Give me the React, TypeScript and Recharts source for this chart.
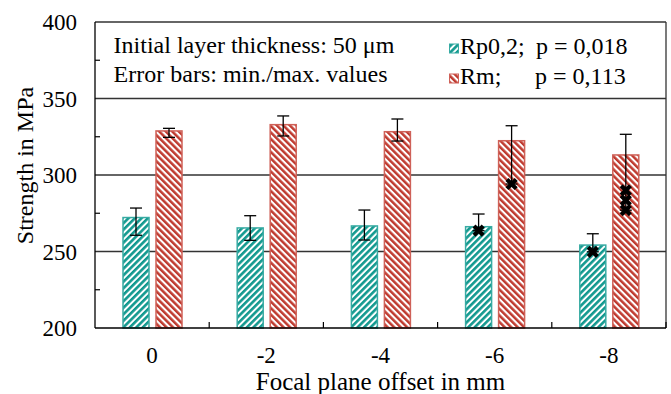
import React from 'react';
import { BarChart, Bar, XAxis, YAxis, CartesianGrid, ErrorBar, Legend } from 'recharts';

// ---------- data ----------
const categories = ['0', '-2', '-4', '-6', '-8'];
const rp02Mean = [272.2, 265.4, 266.7, 266.2, 254.2];
const rp02Min = [260.6, 257.3, 257.5, 263.6, 249.8];
const rp02Max = [278.4, 273.4, 277.1, 274.5, 261.6];
const rmMean = [328.8, 332.9, 328.3, 322.4, 313.1];
const rmMin = [324.6, 325.5, 322.2, 294.1, 277.0];
const rmMax = [330.5, 338.6, 336.6, 332.2, 326.6];
const rp02Marks: number[][] = [[], [], [], [263.6], [249.8]];
const rmMarks: number[][] = [[], [], [], [294.1], [290.0, 283.5, 277.0]];
const yTicks = [200, 225, 250, 275, 300, 325, 350, 375, 400];
const gridValues = [250, 300, 350, 400];
const noteLines = ['Initial layer thickness: 50 μm', 'Error bars: min./max. values'];
const seriesNames = ['Rp0,2;', 'Rm;'];
const seriesP = ['p = 0,018', 'p = 0,113'];
const xTitle = 'Focal plane offset in mm';
const yTitle = 'Strength in MPa';

// ---------- layout ----------
const W = 671;
const H = 394;
const MARGIN = { top: 22, right: 5, bottom: 0, left: 0 };
const Y_AXIS_W = 95;
const X_AXIS_H = 66;
const PLOT_W = W - MARGIN.left - MARGIN.right - Y_AXIS_W;
const BAND = PLOT_W / categories.length;
const Y_DOMAIN: [number, number] = [200, 400];
const FONT = 'Liberation Serif';
const TEAL = '#12998f';
const TEAL_EDGE = '#38aba3';
const RED = '#bf3a2f';
const RED_EDGE = '#cf6158';

const data = categories.map((c, i) => ({
  cat: c,
  rp02: rp02Mean[i],
  rp02Err: [rp02Mean[i] - rp02Min[i], rp02Max[i] - rp02Mean[i]],
  rp02Marks: rp02Marks[i],
  rm: rmMean[i],
  rmErr: [rmMean[i] - rmMin[i], rmMax[i] - rmMean[i]],
  rmMarks: rmMarks[i],
}));

const T = (props: any) => {
  const { children, size, ...rest } = props;
  return (
    <text fontSize={size} fontFamily={FONT} style={{ fontFamily: FONT }} fill="#000" {...rest}>
      {children}
    </text>
  );
};

const Cross = ({ cx, cy }: { cx: number; cy: number }) => (
  <g>
    <line x1={cx - 4.6} y1={cy - 4.6} x2={cx + 4.6} y2={cy + 4.6} stroke="#000" strokeWidth={4.2} />
    <line x1={cx - 4.6} y1={cy + 4.6} x2={cx + 4.6} y2={cy - 4.6} stroke="#000" strokeWidth={4.2} />
  </g>
);

const makeShape = (patternId: string, edge: string, valueKey: string, marksKey: string) => (props: any) => {
  const { x, y, width, height, payload } = props;
  const v = payload[valueKey];
  const ppu = height / (v - Y_DOMAIN[0]);
  const marks: number[] = payload[marksKey] || [];
  return (
    <g>
      <rect x={x} y={y} width={width} height={height} fill={`url(#${patternId})`} stroke={edge} strokeWidth={1.5} />
      {marks.map((m, k) => (
        <Cross key={k} cx={x + width / 2} cy={y + height - (m - Y_DOMAIN[0]) * ppu} />
      ))}
    </g>
  );
};

const YTick = (props: any) => {
  const { x, y, payload } = props;
  const v = payload.value;
  if (v % 50 === 0) {
    return (
      <T x={x - 18} y={y} dy="0.35em" textAnchor="end" size={23}>
        {v}
      </T>
    );
  }
  return <line x1={x} x2={x + 5} y1={y} y2={y} stroke="#000" strokeWidth={1.2} />;
};

const XTick = (props: any) => {
  const { x, y, payload } = props;
  return (
    <g>
      <T x={x} y={y + 35} textAnchor="middle" size={23}>
        {payload.value}
      </T>
      <line x1={x + BAND / 2} x2={x + BAND / 2} y1={y} y2={y - 6} stroke="#000" strokeWidth={1.2} />
    </g>
  );
};

const Patterns = ({ prefix }: { prefix: string }) => (
  <defs>
    <pattern id={`${prefix}teal`} patternUnits="userSpaceOnUse" width={4.6} height={4.6} patternTransform="rotate(45)">
      <rect width={4.6} height={4.6} fill="#fff" />
      <rect width={2.6} height={4.6} fill={TEAL} />
    </pattern>
    <pattern id={`${prefix}red`} patternUnits="userSpaceOnUse" width={4.6} height={4.6} patternTransform="rotate(-45)">
      <rect width={4.6} height={4.6} fill="#fff" />
      <rect width={2.5} height={4.6} fill={RED} />
    </pattern>
  </defs>
);

const renderLegend = () => (
  <svg width={PLOT_W} height={77} style={{ display: 'block' }}>
    <Patterns prefix="lg-" />
    <T x={18.6} y={31} size={24}>{noteLines[0]}</T>
    <T x={18.6} y={60} size={24}>{noteLines[1]}</T>
    <rect x={354.5} y={22} width={9} height={9} fill="url(#lg-teal)" stroke={TEAL_EDGE} strokeWidth={1} />
    <T x={365} y={32} size={24}>{seriesNames[0]}</T>
    <T x={441} y={32} size={24}>{seriesP[0]}</T>
    <rect x={354.5} y={52} width={9} height={9} fill="url(#lg-red)" stroke={RED_EDGE} strokeWidth={1} />
    <T x={365} y={62} size={24}>{seriesNames[1]}</T>
    <T x={440} y={62} size={24}>{seriesP[1]}</T>
  </svg>
);

export default function App() {
  return (
    <div style={{ position: 'absolute', left: 0, top: 0, width: W, height: H, background: '#fff' }}>
      <BarChart width={W} height={H} data={data} margin={MARGIN} barSize={26} barGap={7}>
        <Patterns prefix="b-" />
        <CartesianGrid
          horizontal
          vertical
          horizontalValues={gridValues}
          verticalCoordinatesGenerator={(p: any) => [p.offset.left + p.offset.width]}
          stroke="#333"
          strokeWidth={1.3}
          strokeDasharray=""
        />
        <XAxis
          dataKey="cat"
          height={X_AXIS_H}
          tickLine={false}
          tickSize={0}
          tickMargin={0}
          interval={0}
          axisLine={{ stroke: '#000', strokeWidth: 1.3 }}
          tick={<XTick />}
          label={(p: any) => {
            const vb = p.viewBox || {};
            return (
              <T x={vb.x + vb.width / 2} y={vb.y + 62} textAnchor="middle" size={25}>
                {xTitle}
              </T>
            );
          }}
        />
        <YAxis
          width={Y_AXIS_W}
          domain={Y_DOMAIN}
          ticks={yTicks}
          interval={0}
          tickLine={false}
          tickSize={0}
          tickMargin={0}
          axisLine={{ stroke: '#000', strokeWidth: 1.3 }}
          tick={<YTick />}
          label={(p: any) => {
            const vb = p.viewBox || {};
            const cx = 25;
            const cy = vb.y + vb.height / 2 - 9.5;
            return (
              <T x={cx} y={cy} dy="0.35em" textAnchor="middle" transform={`rotate(-90, ${cx}, ${cy})`} size={24}>
                {yTitle}
              </T>
            );
          }}
        />
        <Legend
          layout="vertical"
          align="center"
          verticalAlign="middle"
          wrapperStyle={{ position: 'absolute', left: Y_AXIS_W, top: MARGIN.top, width: PLOT_W, height: 77 }}
          content={renderLegend}
        />
        <Bar dataKey="rp02" isAnimationActive={false} shape={makeShape('b-teal', TEAL_EDGE, 'rp02', 'rp02Marks')}>
          <ErrorBar dataKey="rp02Err" width={6} stroke="#000" strokeWidth={1.3} direction="y" />
        </Bar>
        <Bar dataKey="rm" isAnimationActive={false} shape={makeShape('b-red', RED_EDGE, 'rm', 'rmMarks')}>
          <ErrorBar dataKey="rmErr" width={6} stroke="#000" strokeWidth={1.3} direction="y" />
        </Bar>
      </BarChart>
    </div>
  );
}
